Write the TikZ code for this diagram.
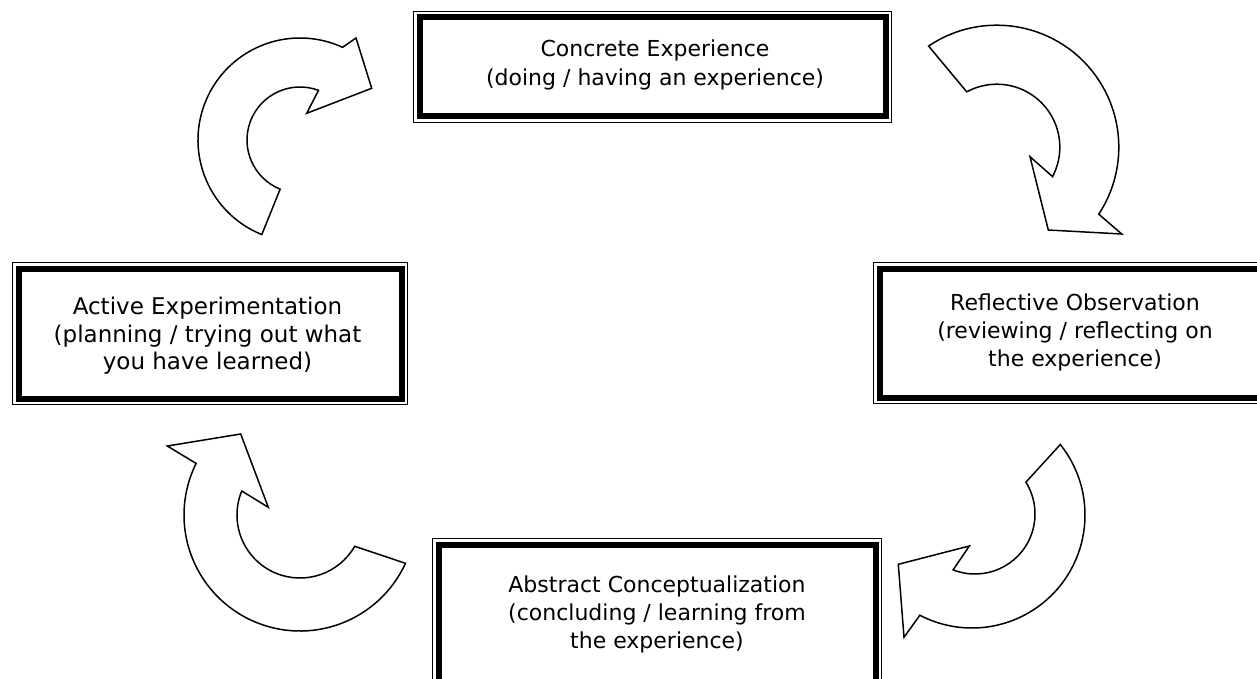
\documentclass[tikz,border=0pt]{standalone}
\usepackage{fontspec}
\setmainfont{DejaVu Sans}
\usetikzlibrary{calc,positioning}
\tikzset{
  frame/.style  = {draw, rectangle, line width=6pt, fill=white, inner sep=0pt,
                   preaction={draw, line width=12.8pt},
                   preaction={draw=white, line width=10.4pt}},
  caption/.style = {align=center, inner sep=0pt, font=\fontsize{22}{28}\selectfont},
  curved/.style = {draw, line width=1.5pt, fill=white, line join=miter}
}

\begin{document}
\begin{tikzpicture}[x=1pt, y=1pt]
\useasboundingbox (0,0) rectangle (1257,-679);
\clip (0,0) rectangle (1257,-679);

% the four stages, framed boxes
\node[frame, minimum width=466pt, minimum height=99pt]   (ce) at (652.5,-67)  {};
\node[frame, minimum width=383pt, minimum height=130pt]  (ae) at (210,-333.5) {};
\node[frame, minimum width=391pt, minimum height=129pt]  (ro) at (1075,-333)  {};
\node[frame, minimum width=437pt, minimum height=139pt]  (ac) at (657,-614)   {};

% texts of the stages
\node[caption, font=\fontsize{22}{29.5}\selectfont] (ce-t) at (655,-65)
  {Concrete Experience\\(doing / having an experience)};
\node[caption, font=\fontsize{23}{27.5}\selectfont] (ae-t) at (207.5,-336)
  {Active Experimentation\\(planning / trying out what\\you have learned)};
\node[caption] (ro-t) at (1075,-332)
  {Reflective Observation\\(reviewing / reflecting on\\the experience)};
\node[caption] (ac-t) at (657,-614)
  {Abstract Conceptualization\\(concluding / learning from\\the experience)};

% centres of the curved arrows
\coordinate (tl) at (300,-140);
\coordinate (tr) at (996.8,-147.2);
\coordinate (br) at (975,-514);
\coordinate (bo) at (972,-515);
\coordinate (bl) at (300,-515);

% active experimentation -> concrete experience
\draw[curved] ($(tl)+(248:102)$) arc[start angle=248, end angle=65.3, radius=102pt]
  -- (356,-38) -- (371.7,-88.3) -- (306.7,-113.3)
  -- ($(tl)+(69.6:53)$) arc[start angle=69.6, end angle=248, radius=53pt] -- cycle;

% concrete experience -> reflective observation
\draw[curved] ($(tr)+(124:122)$) arc[start angle=124, end angle=-33.3, radius=122pt]
  -- (1121.7,-234) -- (1048.3,-230) -- (1030,-156.7)
  -- ($(tr)+(-27.8:63)$) arc[start angle=-27.8, end angle=118.5, radius=63pt] -- cycle;

% reflective observation -> abstract conceptualization
\draw[curved] ($(bo)+(38.6:113)$) arc[start angle=38.6, end angle=-117.5, radius=113pt]
  -- (904,-637.3) -- (898.3,-564.3) -- (969.3,-546)
  -- ($(br)+(-111.4:60)$) arc[start angle=-111.4, end angle=32, radius=60pt] -- cycle;

% abstract conceptualization -> active experimentation
\draw[curved] ($(bl)+(-24.6:116)$) arc[start angle=-24.6, end angle=-206.4, radius=116pt]
  -- (167.3,-446) -- (240.7,-434) -- (268.3,-507.3)
  -- ($(bl)+(157.6:63)$) arc[start angle=157.6, end angle=330.2, radius=63pt] -- cycle;
\end{tikzpicture}
\end{document}
